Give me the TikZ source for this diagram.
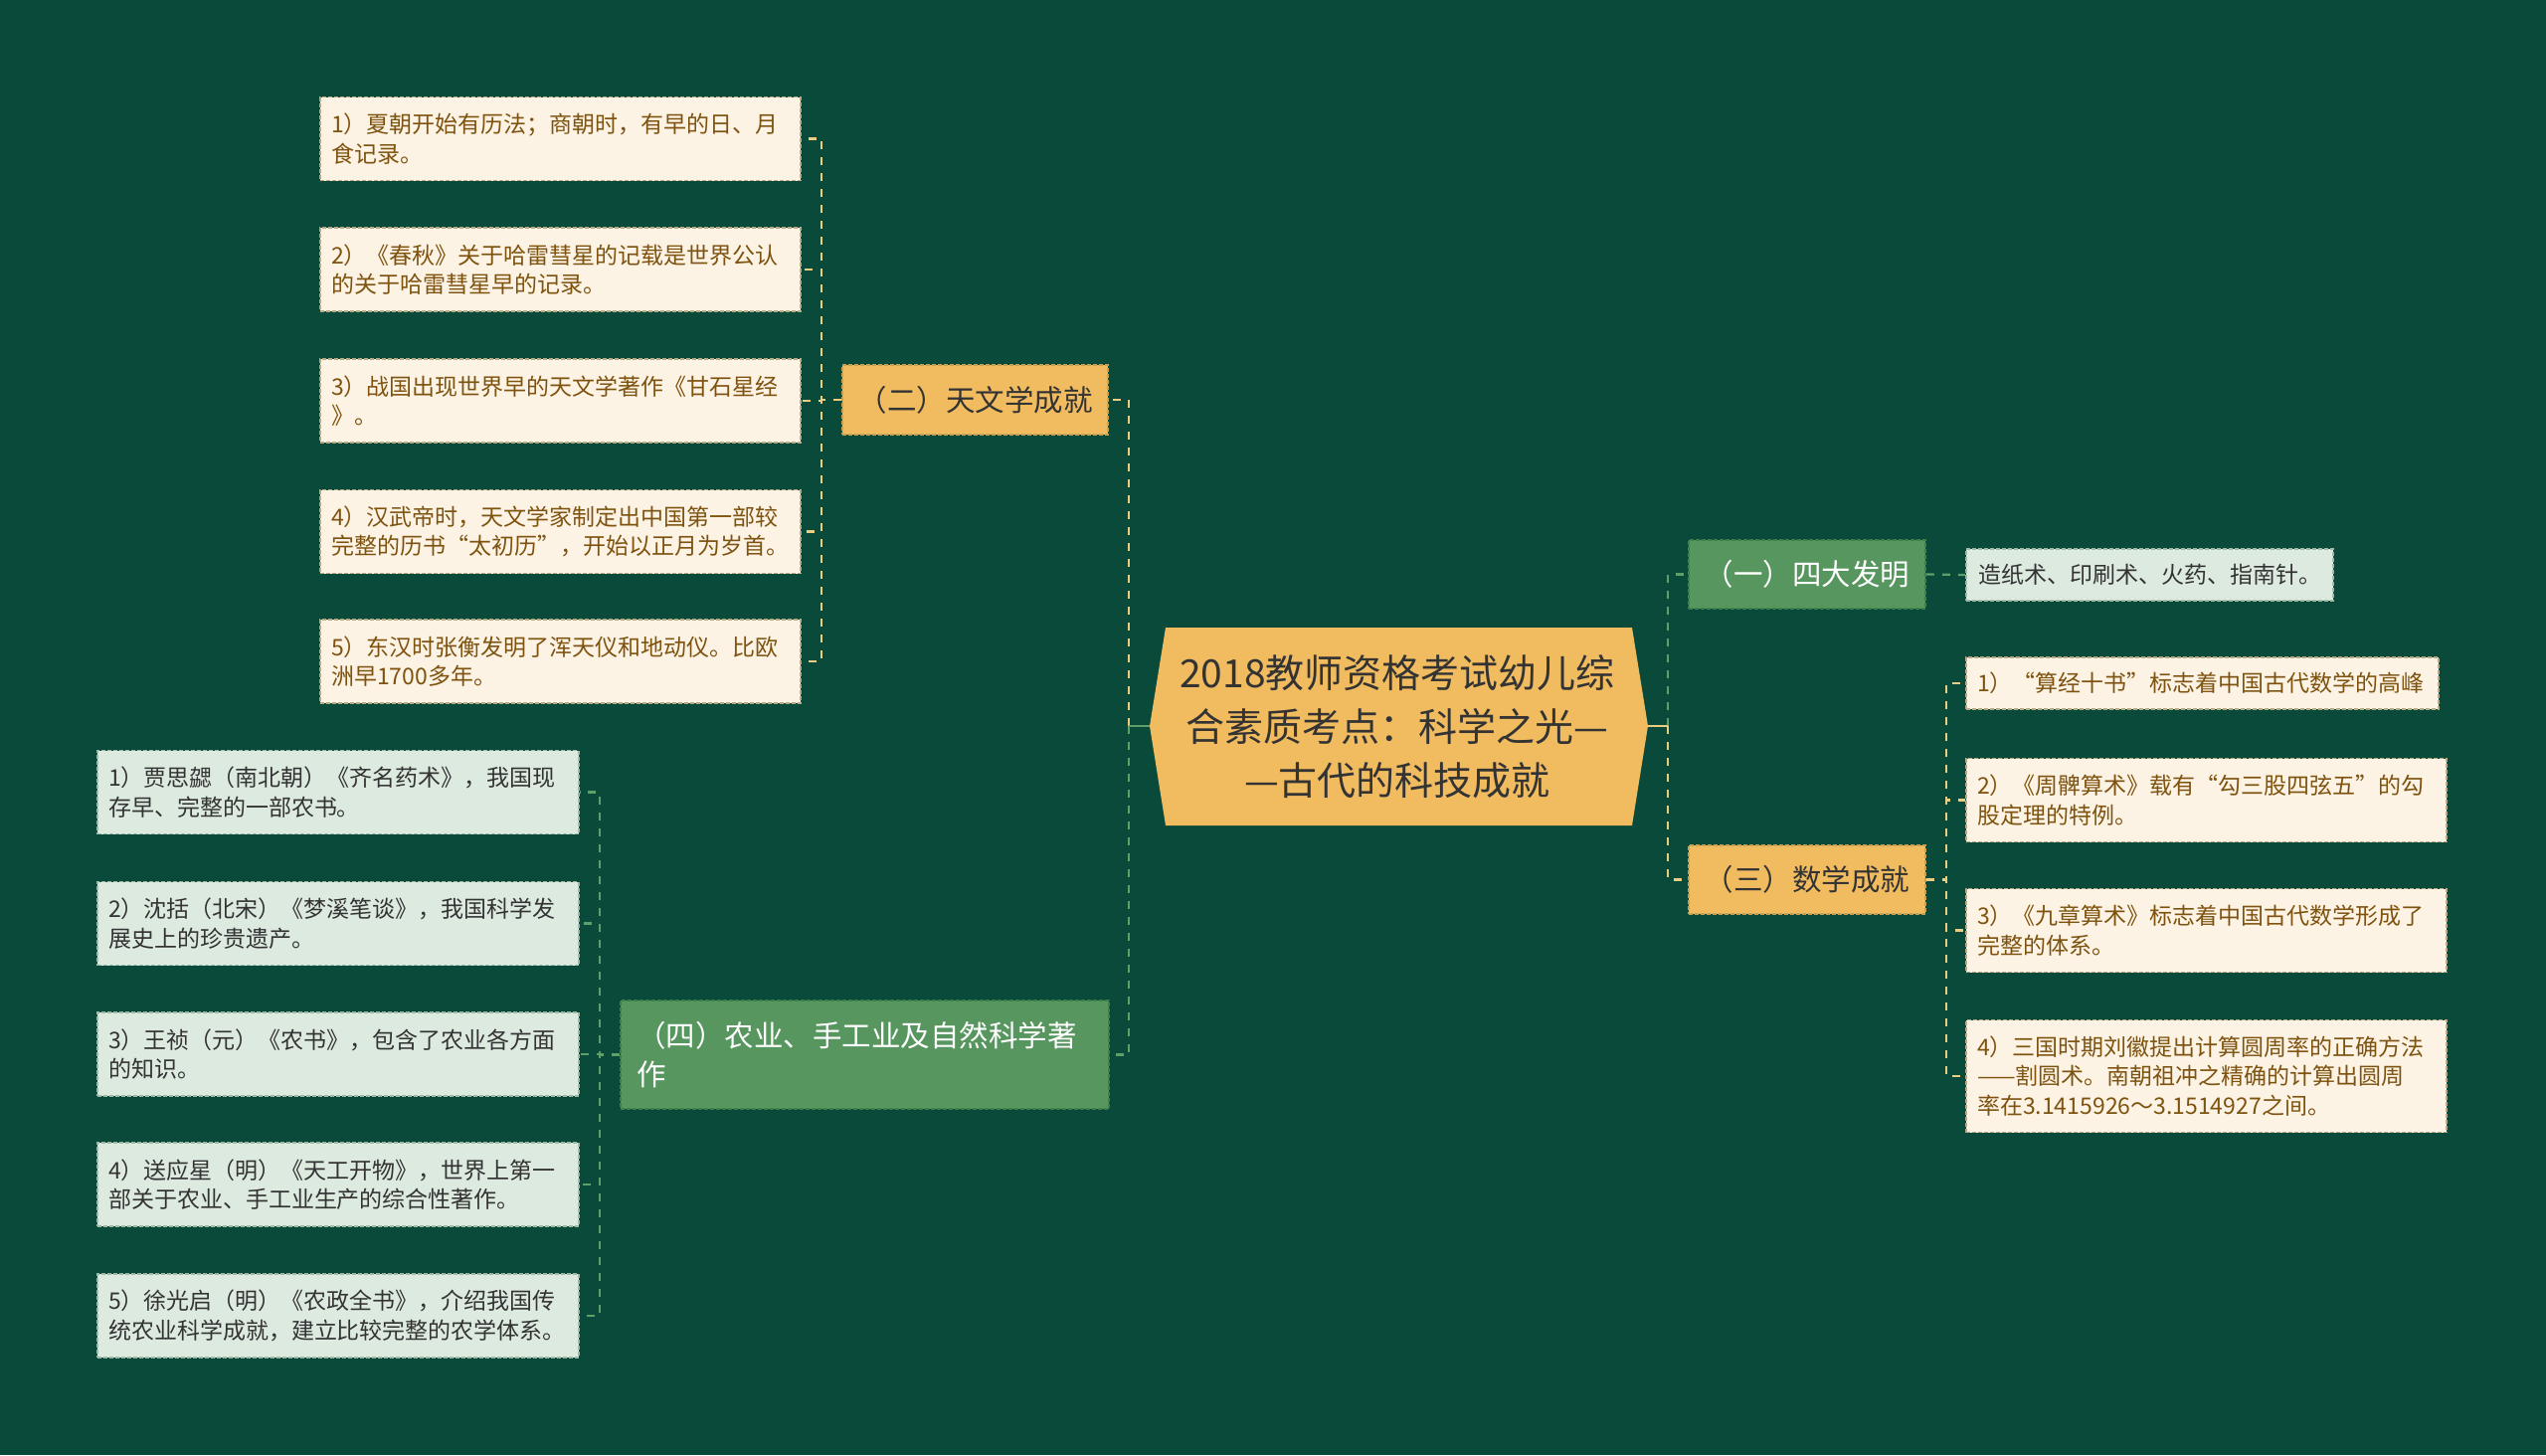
\documentclass[tikz,border=0pt]{standalone}
\usepackage{fontspec}
\setmainfont{Noto Sans CJK SC}
\definecolor{bg}{HTML}{0A4A3A}
\definecolor{orangefill}{HTML}{F1BB60}
\definecolor{orangeedge}{HTML}{C9A050}
\definecolor{greenfill}{HTML}{57965F}
\definecolor{greenedge}{HTML}{3F7F49}
\definecolor{cream}{HTML}{FDF3E4}
\definecolor{creamedge}{HTML}{B9AA86}
\definecolor{lightg}{HTML}{DDEAE0}
\definecolor{lightgedge}{HTML}{9FB9A6}
\definecolor{browntext}{HTML}{7E5310}
\definecolor{darktext}{HTML}{333333}
\definecolor{connY}{HTML}{EACD80}
\definecolor{connG}{HTML}{5FA06A}
\tikzset{
  conn/.style={line width=1.1pt, dash pattern=on 4pt off 4pt},
  cy/.style={conn, draw=connY},
  cg/.style={conn, draw=connG},
  stub/.style={line width=1.3pt},
  boxbase/.style={rectangle, draw, line width=0.8pt, dash pattern=on 2pt off 1pt, inner ysep=0pt, align=left},
  itemc/.style={boxbase, fill=cream, draw=creamedge, text=browntext, font=\fontsize{11.5}{14.7}\selectfont, inner xsep=5.5pt, text width=230.5pt, minimum height=42pt},
  itemg/.style={boxbase, fill=lightg, draw=lightgedge, text=darktext, font=\fontsize{11.5}{14.7}\selectfont, inner xsep=5.5pt, text width=231pt, minimum height=42pt},
  brancho/.style={boxbase, fill=orangefill, draw=orangeedge, text=darktext, font=\fontsize{14.75}{19.5}\selectfont, inner xsep=0pt, align=center},
  branchg/.style={boxbase, fill=greenfill, draw=greenedge, text=white, font=\fontsize{14.75}{19.5}\selectfont, inner xsep=0pt, align=center},
}
\begin{document}
\begin{tikzpicture}[x=0.5pt, y=-0.5pt]
\fill[bg] (0,0) rectangle (2560,1463);
\useasboundingbox (0,0) rectangle (2560,1463);

% central node
\fill[orangefill] (1156,730) -- (1172,631) -- (1641,631) -- (1657,730) -- (1641,830) -- (1172,830) -- cycle;
\node[font=\fontsize{19.5}{27}\selectfont, align=center, text=darktext] (root) at (1405,731)
  {2018教师资格考试幼儿综\\合素质考点：科学之光—\\—古代的科技成就};
\coordinate (rootL) at (1156,730);
\coordinate (rootR) at (1657,730);
\coordinate (spL) at (1135,730);
\coordinate (spR) at (1677,730);

% branches
\node[brancho, minimum width=133.5pt, minimum height=35pt] (ast) at (980.5,402) {（二）天文学成就};
\node[branchg, minimum width=245.5pt, minimum height=54.5pt, align=left, text width=229.5pt, inner xsep=8pt] (agr) at (869.5,1060.5) {（四）农业、手工业及自然科学著\\作};
\node[branchg, minimum width=119pt, minimum height=34.5pt] (inv) at (1817,577.5) {（一）四大发明};
\node[brancho, minimum width=119pt, minimum height=34.5pt] (mat) at (1817,884.5) {（三）数学成就};

% astronomy items
\node[itemc] (a1) at (563.5,139.5) {1）夏朝开始有历法；商朝时，有早的日、月\\食记录。};
\node[itemc] (a2) at (563.5,271) {2）《春秋》关于哈雷彗星的记载是世界公认\\的关于哈雷彗星早的记录。};
\node[itemc] (a3) at (563.5,403) {3）战国出现世界早的天文学著作《甘石星经\\》。};
\node[itemc] (a4) at (563.5,534.5) {4）汉武帝时，天文学家制定出中国第一部较\\完整的历书“太初历”，开始以正月为岁首。};
\node[itemc] (a5) at (563.5,665) {5）东汉时张衡发明了浑天仪和地动仪。比欧\\洲早1700多年。};

% agriculture items
\node[itemg] (g1) at (340,796.5) {1）贾思勰（南北朝）《齐名药术》，我国现\\存早、完整的一部农书。};
\node[itemg] (g2) at (340,928.5) {2）沈括（北宋）《梦溪笔谈》，我国科学发\\展史上的珍贵遗产。};
\node[itemg] (g3) at (340,1060) {3）王祯（元）《农书》，包含了农业各方面\\的知识。};
\node[itemg] (g4) at (340,1191) {4）送应星（明）《天工开物》，世界上第一\\部关于农业、手工业生产的综合性著作。};
\node[itemg] (g5) at (340,1323) {5）徐光启（明）《农政全书》，介绍我国传\\统农业科学成就，建立比较完整的农学体系。};

% inventions
\node[itemg, text width=172.5pt, minimum height=26pt, inner xsep=6pt] (i1) at (2161.5,578) {造纸术、印刷术、火药、指南针。};

% math items
\node[itemc, text width=226.5pt, minimum height=26pt] (m1) at (2214.5,687) {1）“算经十书”标志着中国古代数学的高峰};
\node[itemc] (m2) at (2218.5,804.5) {2）《周髀算术》载有“勾三股四弦五”的勾\\股定理的特例。};
\node[itemc] (m3) at (2218.5,935.5) {3）《九章算术》标志着中国古代数学形成了\\完整的体系。};
\node[itemc, minimum height=56.5pt] (m4) at (2218.5,1082) {4）三国时期刘徽提出计算圆周率的正确方法\\——割圆术。南朝祖冲之精确的计算出圆周\\率在3.1415926～3.1514927之间。};

% connectors root -> branches
\draw[cy] (spL) |- (ast.east);
\draw[cg] (spL) |- (agr.east);
\draw[cg] (spR) |- (inv.west);
\draw[cy] (spR) |- (mat.west);
\draw[stub, draw=connG] (rootL) -- (spL);
\draw[stub, draw=connY] (rootR) -- (spR);

% astronomy
\foreach \n in {a1,a2,a3,a4,a5}
  \draw[cy] (ast.west) -- (826,402) |- (\n.east);
% agriculture
\foreach \n in {g1,g2,g3,g4,g5}
  \draw[cg] (agr.west) -- (603,1060.5) |- (\n.east);
% inventions
\draw[cg] (inv.east) -- (i1.west);
% math
\foreach \n in {m1,m2,m3,m4}
  \draw[cy] (mat.east) -- (1957,884.5) |- (\n.west);
\end{tikzpicture}
\end{document}
